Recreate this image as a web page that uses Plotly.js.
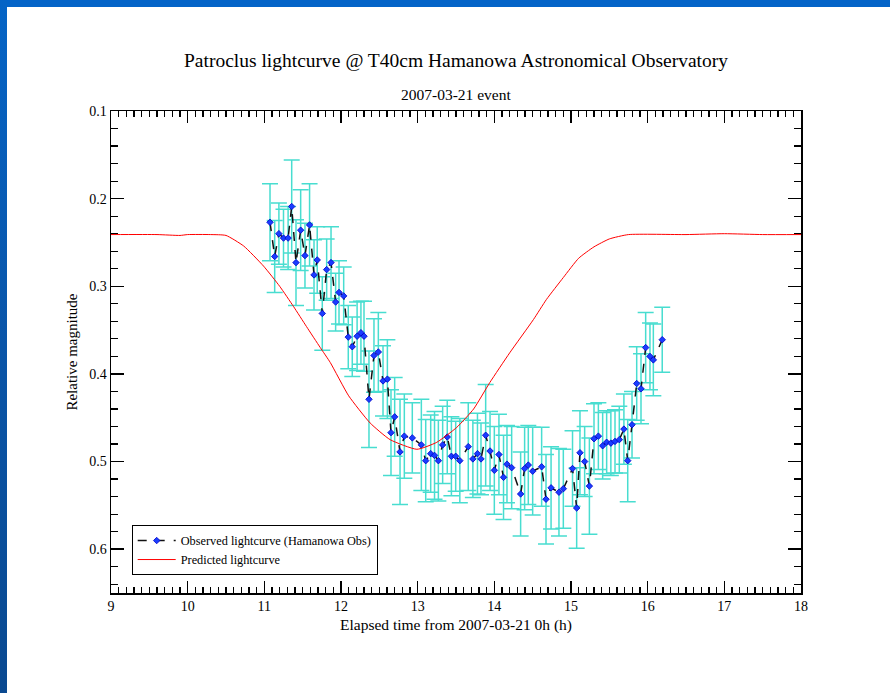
<!DOCTYPE html>
<html>
<head>
<meta charset="utf-8">
<script src="https://cdn.plot.ly/plotly-3.0.1.min.js"></script>
<style>
  html, body { margin: 0; padding: 0; background: #ffffff; }
  #wrap { position: relative; width: 890px; height: 693px; overflow: hidden; }
  #chart { position: absolute; left: 0; top: 0; width: 890px; height: 693px; }
  #topbar { position: absolute; left: 0; top: 0; width: 890px; height: 7px; background: #0464c8; z-index: 5; }
  #leftbar { position: absolute; left: 0; top: 0; width: 7px; height: 693px;
             background: linear-gradient(to bottom, #0564c6 0%, #0a55a8 50%, #0a4990 100%); z-index: 5; }
</style>
</head>
<body>
<div id="wrap">
  <div id="chart"></div>
  <div id="topbar"></div>
  <div id="leftbar"></div>
</div>
<script>
// Observed lightcurve (Hamanowa Obs): elapsed hours, relative magnitude, error
var obsTime = [11.074, 11.135, 11.19, 11.25, 11.31, 11.357, 11.413, 11.474, 11.53, 11.59,
  11.648, 11.69, 11.756, 11.813, 11.87, 11.93, 11.974, 12.035, 12.095, 12.147,
  12.21, 12.26, 12.30, 12.365, 12.43, 12.487, 12.548, 12.605, 12.652, 12.70,
  12.77, 12.826, 12.93, 13.048, 13.105, 13.17, 13.22, 13.27, 13.326, 13.386,
  13.44, 13.496, 13.55, 13.66, 13.72, 13.78, 13.826, 13.887, 13.944, 14.0,
  14.06, 14.12, 14.165, 14.226, 14.343, 14.395, 14.443, 14.50, 14.617, 14.674,
  14.74, 14.843, 14.90, 15.02, 15.074, 15.117, 15.178, 15.24, 15.30, 15.357,
  15.413, 15.465, 15.52, 15.574, 15.63, 15.69, 15.74, 15.796, 15.857, 15.913,
  15.974, 16.03, 16.074, 16.19];
var obsMag = [0.227, 0.266, 0.240, 0.245, 0.245, 0.209, 0.273, 0.236, 0.265, 0.230,
  0.287, 0.270, 0.331, 0.281, 0.273, 0.318, 0.307, 0.311, 0.358, 0.369,
  0.357, 0.353, 0.357, 0.429, 0.379, 0.375, 0.408, 0.406, 0.467, 0.449,
  0.489, 0.471, 0.473, 0.481, 0.499, 0.491, 0.493, 0.499, 0.481, 0.472,
  0.494, 0.494, 0.499, 0.483, 0.497, 0.491, 0.497, 0.470, 0.488, 0.510,
  0.492, 0.518, 0.503, 0.507, 0.537, 0.508, 0.504, 0.511, 0.506, 0.543,
  0.530, 0.535, 0.531, 0.508, 0.553, 0.490, 0.500, 0.528, 0.474, 0.471,
  0.482, 0.478, 0.479, 0.477, 0.475, 0.463, 0.499, 0.458, 0.411, 0.417,
  0.370, 0.380, 0.384, 0.361];
var obsErr = [0.044, 0.041, 0.035, 0.033, 0.036, 0.053, 0.049, 0.046, 0.037, 0.047,
  0.040, 0.038, 0.042, 0.035, 0.041, 0.033, 0.036, 0.033, 0.036, 0.034,
  0.039, 0.036, 0.040, 0.055, 0.042, 0.045, 0.040, 0.045, 0.049, 0.045,
  0.060, 0.048, 0.040, 0.052, 0.047, 0.044, 0.050, 0.046, 0.044, 0.042,
  0.045, 0.040, 0.048, 0.050, 0.044, 0.046, 0.041, 0.058, 0.045, 0.050,
  0.046, 0.048, 0.044, 0.047, 0.048, 0.047, 0.045, 0.050, 0.045, 0.051,
  0.047, 0.050, 0.045, 0.043, 0.046, 0.048, 0.040, 0.055, 0.040, 0.038,
  0.038, 0.036, 0.037, 0.036, 0.038, 0.040, 0.047, 0.038, 0.042, 0.040,
  0.040, 0.038, 0.041, 0.037];

// Predicted lightcurve
var predTime = [9, 9.6, 9.9, 10.0, 10.3, 10.5, 10.73, 10.99, 11.2, 11.38,
  11.55, 11.73, 11.86, 12.1, 12.38, 12.64, 12.99, 13.25, 13.51, 13.73,
  13.94, 14.2, 14.51, 14.68, 14.9, 15.1, 15.3, 15.5, 15.75, 16.5,
  17.0, 17.5, 18];
var predMag = [0.241, 0.241, 0.242, 0.241, 0.241, 0.242, 0.254, 0.277, 0.300, 0.323,
  0.346, 0.370, 0.387, 0.425, 0.456, 0.475, 0.486, 0.478, 0.461, 0.440,
  0.410, 0.376, 0.338, 0.315, 0.290, 0.268, 0.255, 0.246, 0.241, 0.241,
  0.240, 0.241, 0.241];

var titleText = 'Patroclus lightcurve @ T40cm Hamanowa Astronomical Observatory';
var subtitleText = '2007-03-21 event';
var xTitle = 'Elapsed time from 2007-03-21 0h (h)';
var yTitle = 'Relative magnitude';
var obsName = 'Observed lightcurve (Hamanowa Obs)';
var predName = 'Predicted lightcurve';

var serif = '"Liberation Serif", "DejaVu Serif", serif';

var traces = [
  {
    x: obsTime, y: obsMag, name: obsName, type: 'scatter', mode: 'lines+markers',
    line: { color: '#111111', width: 1.5, dash: 'dash' },
    marker: { symbol: 'diamond', size: 5, color: '#1a3cff', line: { color: '#0000c8', width: 0.8 } },
    error_y: { type: 'data', array: obsErr, visible: true, color: '#48ddd0', thickness: 1.5, width: 8 }
  },
  {
    x: predTime, y: predMag, name: predName, type: 'scatter', mode: 'lines',
    line: { color: '#ff0000', width: 1, shape: 'spline', smoothing: 0.5 }
  }
];

var axisCommon = {
  showgrid: false, zeroline: false, showline: true, linecolor: '#000', linewidth: 1.5,
  mirror: 'ticks', ticks: 'inside', tickcolor: '#000', tickwidth: 1.5,
  tickfont: { family: serif, size: 14, color: '#000' }
};

var layout = {
  width: 890, height: 693,
  paper_bgcolor: '#ffffff', plot_bgcolor: '#ffffff',
  margin: { l: 111, r: 89, t: 111, b: 100 },
  showlegend: true,
  title: { text: titleText, font: { family: serif, size: 19.5, color: '#000' },
           x: 0.5, xref: 'paper', xanchor: 'center', y: 1 - 60/693, yanchor: 'middle' },
  xaxis: Object.assign({}, axisCommon, {
    range: [9, 18], dtick: 1, tick0: 9, ticklen: 12,
    minor: { dtick: 0.1, ticks: 'inside', ticklen: 6, tickcolor: '#000', tickwidth: 1.2 },
    title: { text: xTitle, font: { family: serif, size: 15.5, color: '#000' }, standoff: 6 }
  }),
  yaxis: Object.assign({}, axisCommon, {
    range: [0.65, 0.1], dtick: 0.1, tick0: 0.1, ticklen: 13, tickformat: '.1f',
    minor: { dtick: 0.02, ticks: 'inside', ticklen: 7, tickcolor: '#000', tickwidth: 1.2 },
    title: { text: yTitle, font: { family: serif, size: 15, color: '#000' }, standoff: 8 }
  }),
  legend: {
    x: 0.030, y: 0.141, xanchor: 'left', yanchor: 'top',
    bgcolor: '#ffffff', bordercolor: '#000', borderwidth: 1,
    font: { family: serif, size: 12.3, color: '#000' },
    tracegroupgap: 0, itemwidth: 38
  },
  annotations: [
    { text: subtitleText, xref: 'paper', yref: 'paper', x: 0.5, y: 1 + (111 - 95)/482,
      xanchor: 'center', yanchor: 'middle', showarrow: false,
      font: { family: serif, size: 15.5, color: '#000' } }
  ]
};

Plotly.newPlot('chart', traces, layout, { displayModeBar: false, staticPlot: true });
</script>
</body>
</html>
